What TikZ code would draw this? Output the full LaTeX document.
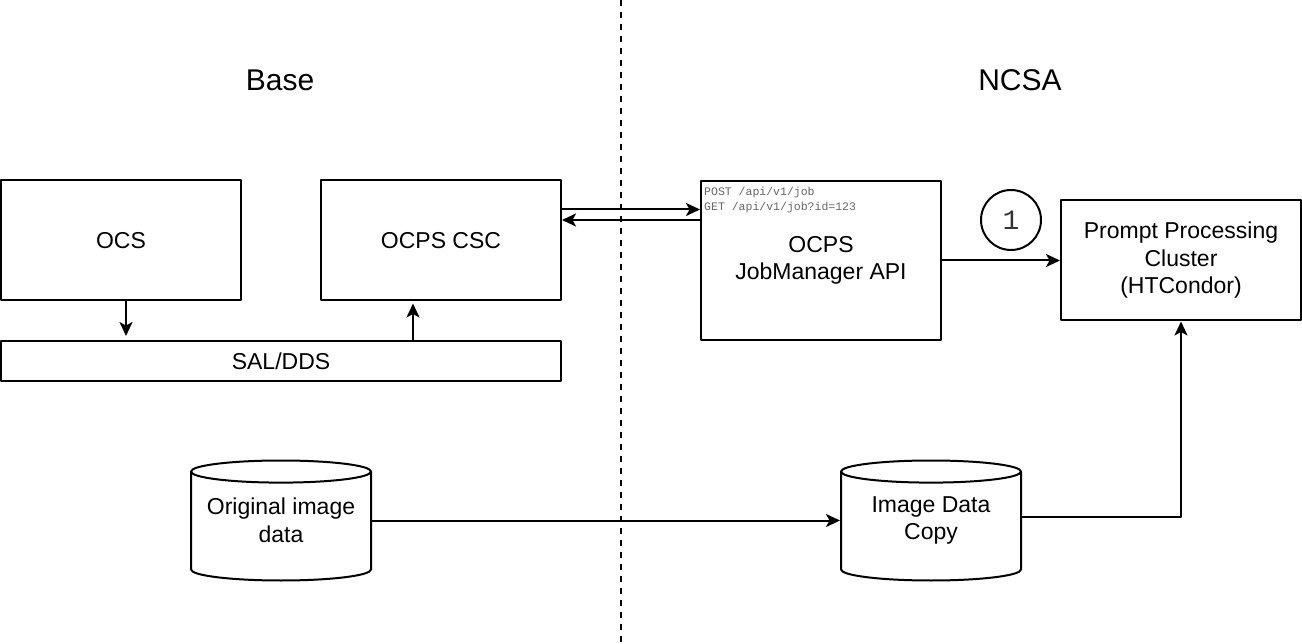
\documentclass[tikz,border=0pt]{standalone}
\usepackage{fontspec}
\setmainfont{Liberation Sans}
\newfontfamily\monofont{Liberation Mono}
\usetikzlibrary{shapes.geometric,arrows.meta}
\tikzset{
	box/.style={draw,line width=2pt,minimum width=240pt,minimum height=120pt,align=center,inner sep=0pt},
	db/.style={shape=cylinder,draw,line width=2pt,shape border rotate=90,aspect=0.13,minimum width=180pt,minimum height=120pt,text width=170pt,inner sep=0pt,anchor=shape center},
	link/.style={-{Stealth[length=14pt,width=13pt,inset=3.5pt]},line width=2pt}
}
\begin{document}
\begin{tikzpicture}[line join=round,x=1pt,y=-1pt,font=\fontsize{23}{27.5}\selectfont]
	\useasboundingbox (0,0) rectangle (1302,644);
	\draw[line width=2pt,dash pattern=on 6pt off 6pt] (621,0) -- (621,644); % ranh giới
	\node (base) at (280,80) {\fontsize{30}{36}\selectfont Base};
	\node (ncsa) at (1020,80) {\fontsize{30}{36}\selectfont NCSA};
	\node[box] (ocs) at (121,240.5) {OCS};
	\node[box] (csc) at (441,240.5) {OCPS CSC};
	\node[box,minimum width=560pt,minimum height=40pt] (sal) at (281,361) {SAL/DDS};
	\node[box,minimum height=159pt] (jobapi) at (821,260.5) {OCPS\\JobManager API};
	\node[anchor=north west,inner sep=0pt,text=black!60,align=left,font=\monofont\fontsize{11.5}{14.5}\selectfont] (req) at ([xshift=4pt,yshift=-7pt]jobapi.north west) {POST /api/v1/job\\GET /api/v1/job?id=123};
	\node[draw,circle,line width=2pt,minimum size=60pt,inner sep=0pt,text=black!80,font=\monofont\fontsize{28}{28}\selectfont] (step1) at (1011,220) {1};
	\node[box] (cluster) at (1181,260.5) {Prompt Processing\\Cluster\\(HTCondor)};
	\node[db] (orig) at (281,520.5) {};
	\node[db] (copy) at (931,520.5) {};
	\node[align=center] (origtxt) at (orig.shape center) {Original image\\data};
	\node[align=center] (copytxt) at (copy.shape center) {Image Data\\Copy};
	% mũi tên
	\draw[link] ([xshift=5pt]ocs.south) -- ([xshift=5pt,yshift=4pt]ocs.south |- sal.north);
	\draw[link] ([xshift=-28pt]csc.south |- sal.north) -- ([xshift=-28pt,yshift=-2pt]csc.south);
	\draw[link] ([yshift=-30pt]csc.north east) -- ([yshift=-30pt]csc.north east -| jobapi.west);
	\draw[link] ([yshift=-40pt]jobapi.north west) -- ([yshift=-40pt]jobapi.north west -| csc.east);
	\draw[link] (jobapi) -- (cluster);
	\draw[link] (orig.east |- origtxt) -- (copy.west |- origtxt);
	\draw[link] ([yshift=4pt]copy.east |- copytxt) -| (cluster.south);
\end{tikzpicture}
\end{document}
